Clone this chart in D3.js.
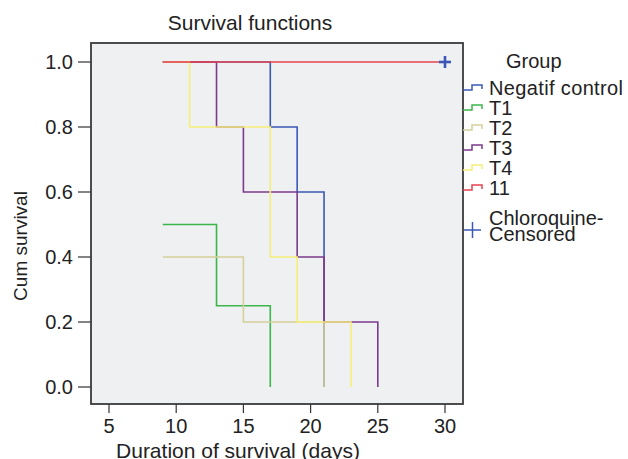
<!DOCTYPE html>
<html>
<head>
<meta charset="utf-8">
<script src="https://cdn.jsdelivr.net/npm/d3@7"></script>
<style>
  body { margin: 0; background: #fff; }
  svg { display: block; }
</style>
</head>
<body>
<div id="chart"></div>
<script>
// survival step data
const groups = ["Negatif control", "T1", "T2", "T3", "T4", "11"];
const colors = ["#3b58b6", "#3cb54a", "#d5cf9a", "#7c3a8d", "#f6ee78", "#e8434f"];
const negTimes = [9, 17, 19, 21];
const negSurv = [1.0, 0.8, 0.6, 0.0];
const t1Times = [9, 13, 17];
const t1Surv = [0.5, 0.25, 0.0];
const t2Times = [9, 15, 21];
const t2Surv = [0.4, 0.2, 0.0];
const t3Times = [9, 13, 15, 19, 21, 25];
const t3Surv = [1.0, 0.8, 0.6, 0.4, 0.2, 0.0];
const t4Times = [9, 11, 17, 19, 23];
const t4Surv = [1.0, 0.8, 0.4, 0.2, 0.0];
const g11Times = [9, 30];
const g11Surv = [1.0, 1.0];
const censorTimes = [30];
const censorSurv = [1.0];
const xTicks = [5, 10, 15, 20, 25, 30];
const yTicks = [0.0, 0.2, 0.4, 0.6, 0.8, 1.0];

function main() {
  const width = 628, height = 459;
  const svg = d3.select("#chart").append("svg")
      .attr("width", width)
      .attr("height", height)
      .attr("font-family", "Liberation Sans, Arial, sans-serif");

  const x = d3.scaleLinear().domain([5, 30]).range([109, 445]);
  const y = d3.scaleLinear().domain([0, 1]).range([387, 62]);

  const box = { left: 91, top: 43, right: 463, bottom: 404 };

  svg.append("rect")
      .attr("x", box.left).attr("y", box.top)
      .attr("width", box.right - box.left)
      .attr("height", box.bottom - box.top)
      .attr("fill", "#eef0f2");

  // y axis ticks + labels
  const yg = svg.append("g");
  yg.selectAll("line").data(yTicks).join("line")
      .attr("x1", 78).attr("x2", box.left)
      .attr("y1", d => y(d)).attr("y2", d => y(d))
      .attr("stroke", "#333").attr("stroke-width", 1.2);
  yg.selectAll("text").data(yTicks).join("text")
      .attr("x", 73).attr("y", d => y(d) + 7)
      .attr("text-anchor", "end")
      .attr("font-size", 20)
      .attr("fill", "#222")
      .text(d => d.toFixed(1));

  // x axis ticks + labels
  const xg = svg.append("g");
  xg.selectAll("line").data(xTicks).join("line")
      .attr("x1", d => x(d)).attr("x2", d => x(d))
      .attr("y1", box.bottom).attr("y2", 413)
      .attr("stroke", "#333").attr("stroke-width", 1.2);
  xg.selectAll("text").data(xTicks).join("text")
      .attr("x", d => x(d)).attr("y", 433)
      .attr("text-anchor", "middle")
      .attr("font-size", 20)
      .attr("fill", "#222")
      .text(d => d);

  // curves
  const series = [
    [negTimes, negSurv], [t1Times, t1Surv], [t2Times, t2Surv],
    [t3Times, t3Surv], [t4Times, t4Surv], [g11Times, g11Surv]
  ];
  const line = d3.line()
      .x(d => x(d[0]))
      .y(d => y(d[1]))
      .curve(d3.curveStepAfter);

  svg.append("g").selectAll("path")
    .data(series)
    .join("path")
      .attr("d", s => line(d3.zip(s[0], s[1])))
      .attr("fill", "none")
      .attr("stroke", (s, i) => colors[i])
      .attr("stroke-width", 1.6);

  // censored marks
  const cg = svg.append("g").attr("stroke", "#3b58b6").attr("stroke-width", 2.6);
  d3.zip(censorTimes, censorSurv).forEach(([t, s]) => {
    cg.append("line").attr("x1", x(t) - 6).attr("x2", x(t) + 6)
        .attr("y1", y(s)).attr("y2", y(s));
    cg.append("line").attr("x1", x(t)).attr("x2", x(t))
        .attr("y1", y(s) - 6).attr("y2", y(s) + 6);
  });

  // frame
  svg.append("rect")
      .attr("x", box.left).attr("y", box.top)
      .attr("width", box.right - box.left)
      .attr("height", box.bottom - box.top)
      .attr("fill", "none")
      .attr("stroke", "#3a3a3a")
      .attr("stroke-width", 1.8);

  // titles
  svg.append("text")
      .attr("x", 250).attr("y", 30)
      .attr("text-anchor", "middle")
      .attr("font-size", 21)
      .attr("fill", "#222")
      .text("Survival functions");

  svg.append("text")
      .attr("x", 238).attr("y", 458)
      .attr("text-anchor", "middle")
      .attr("font-size", 21)
      .attr("fill", "#222")
      .text("Duration of survival (days)");

  svg.append("text")
      .attr("transform", "translate(27,246) rotate(-90)")
      .attr("text-anchor", "middle")
      .attr("font-size", 19)
      .attr("fill", "#222")
      .text("Cum survival");

  // legend
  const lg = svg.append("g");
  lg.append("text")
      .attr("x", 506).attr("y", 68)
      .attr("font-size", 20)
      .attr("fill", "#222")
      .text("Group");

  const rows = lg.selectAll("g.row").data(groups).join("g")
      .attr("class", "row")
      .attr("transform", (d, i) => `translate(0,${95 + i * 20})`);
  rows.append("path")
      .attr("d", "M463,-5H472V-10H482V-6")
      .attr("fill", "none")
      .attr("stroke", (d, i) => colors[i])
      .attr("stroke-width", 1.5);
  rows.append("text")
      .attr("x", 489).attr("y", 0)
      .attr("font-size", 20)
      .attr("textLength", (d, i) => i === 0 ? 134 : null)
      .attr("fill", "#222")
      .text(d => d);

  const cens = lg.append("g");
  cens.append("line").attr("x1", 464).attr("x2", 481).attr("y1", 230).attr("y2", 230)
      .attr("stroke", "#3b58b6").attr("stroke-width", 1.5);
  cens.append("line").attr("x1", 472.5).attr("x2", 472.5).attr("y1", 222).attr("y2", 238)
      .attr("stroke", "#3b58b6").attr("stroke-width", 1.5);
  cens.append("text")
      .attr("x", 489).attr("y", 225)
      .attr("font-size", 20).attr("fill", "#222")
      .text("Chloroquine-");
  cens.append("text")
      .attr("x", 489).attr("y", 241)
      .attr("font-size", 20).attr("fill", "#222")
      .text("Censored");
}

main();
</script>
</body>
</html>
